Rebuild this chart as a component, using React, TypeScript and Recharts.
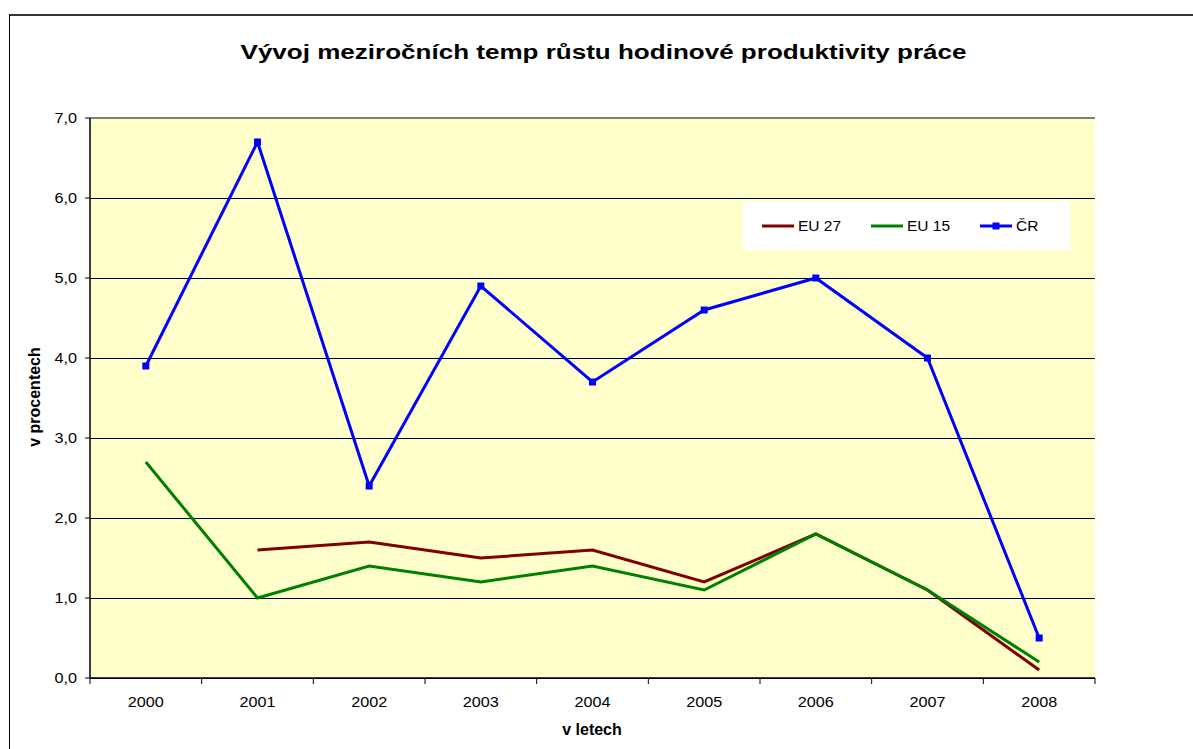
import React from 'react';
import { LineChart, Line, XAxis, YAxis, CartesianGrid, ReferenceLine } from 'recharts';

const YEARS = ['2000', '2001', '2002', '2003', '2004', '2005', '2006', '2007', '2008'];
const EU27 = [null, 1.6, 1.7, 1.5, 1.6, 1.2, 1.8, 1.1, 0.1];
const EU15 = [2.7, 1.0, 1.4, 1.2, 1.4, 1.1, 1.8, 1.1, 0.2];
const CR = [3.9, 6.7, 2.4, 4.9, 3.7, 4.6, 5.0, 4.0, 0.5];
const Y_TICKS = [0, 1, 2, 3, 4, 5, 6, 7];

const SERIES = [
  { key: 'eu27', name: 'EU 27', color: '#800000', marker: false },
  { key: 'eu15', name: 'EU 15', color: '#008000', marker: false },
  { key: 'cr', name: 'ČR', color: '#0000FF', marker: true },
];

const data = YEARS.map((y, i) => ({ idx: i, year: y, eu27: EU27[i], eu15: EU15[i], cr: CR[i] }));

const X_TICKS: number[] = [];
for (let i = 0; i <= YEARS.length * 2; i++) X_TICKS.push(-0.5 + i * 0.5);

const FONT = 'Arial, "Liberation Sans", sans-serif';
const TICK_SX = 1.08;

const XTick = (props: any) => {
  const { x, y, payload } = props;
  const v = payload.value;
  if (Number.isInteger(v)) {
    return (
      <text
        x={0}
        y={0}
        transform={`translate(${x}, ${y + 29}) scale(${TICK_SX}, 1)`}
        textAnchor="middle"
        fontSize={15}
        fill="#000"
        fontFamily={FONT}
      >
        {YEARS[v]}
      </text>
    );
  }
  return <line x1={x} x2={x} y1={y} y2={y + 6} stroke="#000" strokeWidth={1} />;
};

const YTick = (props: any) => {
  const { x, y, payload } = props;
  const label = Number(payload.value).toFixed(1).replace('.', ',');
  return (
    <text
      x={0}
      y={0}
      transform={`translate(${x}, ${y + 5.3}) scale(${TICK_SX}, 1)`}
      textAnchor="end"
      fontSize={15}
      fill="#000"
      fontFamily={FONT}
    >
      {label}
    </text>
  );
};

const squareDot = (p: any) => {
  if (p.cx == null || p.cy == null || p.value == null) return <g key={p.index} />;
  return <rect key={p.index} x={p.cx - 3.5} y={p.cy - 3.5} width={7} height={7} fill="#0000FF" />;
};

export default function App() {
  return (
    <div
      style={{
        position: 'absolute',
        left: 0,
        top: 0,
        width: 1193,
        height: 749,
        overflow: 'hidden',
        background: '#fff',
        fontFamily: FONT,
      }}
    >
      <div
        style={{
          position: 'absolute',
          left: 9,
          top: 14,
          width: 1300,
          height: 800,
          borderLeft: '1px solid #000',
          borderTop: '2px solid #333',
        }}
      />
      <div style={{ position: 'absolute', left: 0, top: 0 }}>
        <LineChart
          width={1193}
          height={749}
          data={data}
          margin={{ top: 118, right: 98, bottom: 41, left: 30 }}
        >
          <CartesianGrid
            horizontal={true}
            vertical={false}
            stroke="#000"
            strokeWidth={1}
            fill="#FFFFCC"
            fillOpacity={1}
            shapeRendering="crispEdges"
          />
          <XAxis
            dataKey="idx"
            type="number"
            domain={[-0.5, 8.5]}
            ticks={X_TICKS}
            interval={0}
            tick={<XTick />}
            tickLine={false}
            tickSize={0}
            tickMargin={0}
            height={30}
            axisLine={{ stroke: '#000', strokeWidth: 1.5 }}
          />
          <YAxis
            type="number"
            domain={[0, 7]}
            ticks={Y_TICKS}
            interval={0}
            width={60}
            tickSize={5}
            tickMargin={8}
            tickLine={{ stroke: '#000' }}
            axisLine={{ stroke: '#000', strokeWidth: 1.5 }}
            tick={<YTick />}
          />
          <YAxis
            yAxisId="r"
            orientation="right"
            type="number"
            domain={[0, 7]}
            width={0}
            tick={false}
            tickLine={false}
            axisLine={{ stroke: '#808080', strokeWidth: 2 }}
          />
          <ReferenceLine y={7} stroke="#808080" strokeWidth={2} />
          <Line
            type="linear"
            dataKey="eu27"
            name="EU 27"
            stroke="#800000"
            strokeWidth={3}
            dot={false}
            activeDot={false}
            isAnimationActive={false}
          />
          <Line
            type="linear"
            dataKey="eu15"
            name="EU 15"
            stroke="#008000"
            strokeWidth={3}
            dot={false}
            activeDot={false}
            isAnimationActive={false}
          />
          <Line
            type="linear"
            dataKey="cr"
            name="ČR"
            stroke="#0000FF"
            strokeWidth={3}
            dot={squareDot}
            activeDot={false}
            isAnimationActive={false}
          />
        </LineChart>
      </div>
      <svg
        width={1193}
        height={749}
        style={{ position: 'absolute', left: 0, top: 0, pointerEvents: 'none' }}
      >
        <text
          x={0}
          y={0}
          transform="translate(603.5, 59) scale(1.24, 1)"
          textAnchor="middle"
          fontSize={21}
          fontWeight="bold"
          fill="#000"
          fontFamily={FONT}
        >
          Vývoj meziročních temp růstu hodinové produktivity práce
        </text>
        <text
          x={40}
          y={397}
          textAnchor="middle"
          fontSize={16}
          fontWeight="bold"
          fill="#000"
          fontFamily={FONT}
          transform="rotate(-90, 40, 397)"
        >
          v procentech
        </text>
        <text x={592} y={735} textAnchor="middle" fontSize={16} fontWeight="bold" fill="#000" fontFamily={FONT}>
          v letech
        </text>
      </svg>
      <div
        style={{
          position: 'absolute',
          left: 743,
          top: 201,
          width: 327,
          height: 49,
          background: '#fff',
          display: 'flex',
          alignItems: 'center',
        }}
      >
        {SERIES.map((s) => (
          <div
            key={s.key}
            style={{ width: 116, paddingLeft: 19, boxSizing: 'border-box', display: 'flex', alignItems: 'center' }}
          >
            <svg width={32} height={10} style={{ display: 'block' }}>
              <line x1={0} x2={32} y1={5} y2={5} stroke={s.color} strokeWidth={3} />
              {s.marker && <rect x={12.5} y={1.5} width={7} height={7} fill={s.color} />}
            </svg>
            <span style={{ marginLeft: 4, fontSize: 15.5, color: '#000', lineHeight: '17px' }}>{s.name}</span>
          </div>
        ))}
      </div>
    </div>
  );
}
